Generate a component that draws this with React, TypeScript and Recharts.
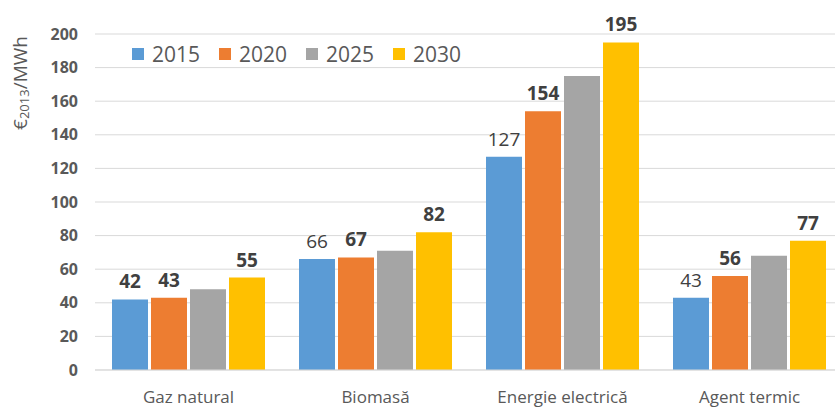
import { Bar, BarChart, CartesianGrid, Label, LabelList, XAxis, YAxis } from "recharts";

const categories = ["Gaz natural", "Biomasă", "Energie electrică", "Agent termic"];
const years = ["2015", "2020", "2025", "2030"];
const colors = ["#5b9bd5", "#ed7d31", "#a5a5a5", "#ffc000"];

const values2015 = [42, 66, 127, 43];
const values2020 = [43, 67, 154, 56];
const values2025 = [48, 71, 175, 68];
const values2030 = [55, 82, 195, 77];

// label weight per category (2025 has no labels)
const bold2015 = [true, false, false, false];
const bold2020 = [true, true, true, true];
const bold2030 = [true, true, true, true];

const yTicks = [0, 20, 40, 60, 80, 100, 120, 140, 160, 180, 200];

const FONT = "'Open Sans', sans-serif";

const data = categories.map((name, i) => ({
  name,
  y2015: values2015[i],
  y2020: values2020[i],
  y2025: values2025[i],
  y2030: values2030[i],
}));

function makeLabel(boldFlags: boolean[]) {
  return (props: any) => {
    const { x, y, width, value, index } = props;
    return (
      <text
        x={x + width / 2}
        y={y - 11}
        textAnchor="middle"
        fontFamily={FONT}
        fontSize={19}
        fontWeight={boldFlags[index] ? 700 : 400}
        fill="#404040"
      >
        {value}
      </text>
    );
  };
}

function YTitle(props: any) {
  const { viewBox } = props;
  const cx = viewBox.x + 22;
  const cy = viewBox.y + 49;
  return (
    <text
      x={cx}
      y={cy}
      transform={`rotate(-90, ${cx}, ${cy})`}
      textAnchor="middle"
      dominantBaseline="middle"
      fontFamily={FONT}
      fontSize={19}
      fill="#595959"
    >
      €<tspan fontSize={13} dy={4}>2013</tspan>
      <tspan dy={-4}>/MWh</tspan>
    </text>
  );
}

function ChartLegend() {
  return (
    <div style={{ position: "absolute", left: 132, top: 41, display: "flex", fontFamily: FONT }}>
      {years.map((yr, i) => (
        <div key={yr} style={{ display: "flex", alignItems: "center", width: 87 }}>
          <div style={{ width: 12, height: 12, background: colors[i], marginRight: 8 }} />
          <span style={{ fontSize: 21, color: "#595959", lineHeight: "26px" }}>{yr}</span>
        </div>
      ))}
    </div>
  );
}

export default function App() {
  return (
    <div style={{ position: "absolute", left: 0, top: 0, width: 835, height: 409, overflow: "hidden", background: "#fff" }}>
      <BarChart
        width={845}
        height={409}
        data={data}
        margin={{ top: 34, right: 2, left: 0, bottom: 0 }}
        barCategoryGap={17}
        barGap={3}
      >
        <CartesianGrid vertical={false} stroke="#d9d9d9" />
        <XAxis
          dataKey="name"
          height={39}
          tickSize={0}
          tickMargin={21}
          axisLine={{ stroke: "#d9d9d9" }}
          tick={{ fontSize: 17, fill: "#595959", fontFamily: FONT }}
        />
        <YAxis
          width={95}
          domain={[0, 200]}
          ticks={yTicks}
          axisLine={false}
          tickSize={0}
          tickMargin={17}
          tick={{ fontSize: 16, fill: "#595959", fontFamily: FONT, fontWeight: 700 }}
        >
          <Label content={YTitle} />
        </YAxis>
        <Bar dataKey="y2015" name="2015" fill={colors[0]} isAnimationActive={false}>
          <LabelList dataKey="y2015" content={makeLabel(bold2015)} />
        </Bar>
        <Bar dataKey="y2020" name="2020" fill={colors[1]} isAnimationActive={false}>
          <LabelList dataKey="y2020" content={makeLabel(bold2020)} />
        </Bar>
        <Bar dataKey="y2025" name="2025" fill={colors[2]} isAnimationActive={false} />
        <Bar dataKey="y2030" name="2030" fill={colors[3]} isAnimationActive={false}>
          <LabelList dataKey="y2030" content={makeLabel(bold2030)} />
        </Bar>
      </BarChart>
      <ChartLegend />
    </div>
  );
}
